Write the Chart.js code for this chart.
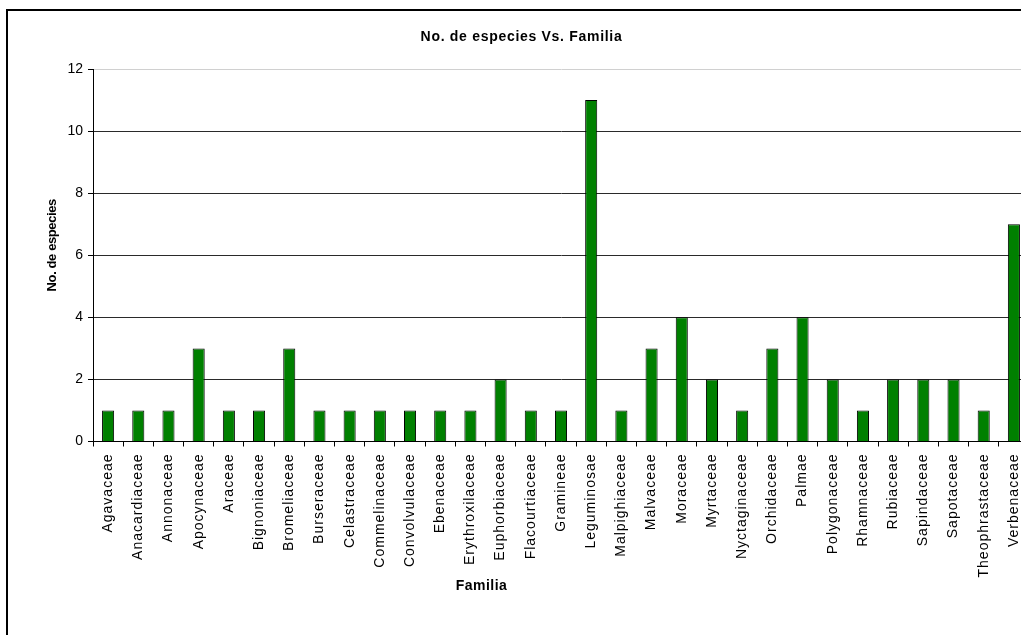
<!DOCTYPE html>
<html><head><meta charset="utf-8">
<script src="https://cdn.jsdelivr.net/npm/chart.js@4"></script>
<style>
html,body{margin:0;padding:0;background:#fff;overflow:hidden;width:1021px;height:635px}
#frame{position:absolute;left:6px;top:9px;width:1100px;height:700px;border:2px solid #000;box-sizing:border-box}
#c{position:absolute;left:0;top:0}
</style></head><body>
<div id="frame"></div>
<canvas id="c" width="1029" height="635"></canvas>
<script>
const categories = ['Agavaceae','Anacardiaceae','Annonaceae','Apocynaceae','Araceae','Bignoniaceae','Bromeliaceae','Burseraceae','Celastraceae','Commelinaceae','Convolvulaceae','Ebenaceae','Erythroxilaceae','Euphorbiaceae','Flacourtiaceae','Gramineae','Leguminosae','Malpighiaceae','Malvaceae','Moraceae','Myrtaceae','Nyctaginaceae','Orchidaceae','Palmae','Polygonaceae','Rhamnaceae','Rubiaceae','Sapindaceae','Sapotaceae','Theophrastaceae','Verbenaceae'];
const speciesCount = [1,1,1,3,1,1,3,1,1,1,1,1,1,2,1,1,11,1,3,4,2,1,3,4,2,1,2,2,2,1,7];
const yTicks = [0,2,4,6,8,10,12];
const chartTitle = 'No. de especies Vs. Familia';
const xTitle = 'Familia';
const yTitle = 'No. de especies';

const FONT = '"Liberation Sans", Arial, sans-serif';

function wrap(obj, name, spacing, dx, dy) {
  if (!obj || !obj[name] || obj[name].__wrapped) return;
  const orig = obj[name];
  const f = function(...args) {
    const c = this.ctx;
    c.save();
    c.letterSpacing = spacing;
    if (dx || dy) c.translate(dx || 0, dy || 0);
    try { return orig.apply(this, args); } finally { c.restore(); }
  };
  f.__wrapped = true;
  obj[name] = f;
}

const spacingPlugin = {
  id: 'excelText',
  beforeDraw(chart) {
    wrap(chart.scales.x, 'drawLabels', '1px');
    wrap(chart.scales.x, 'drawTitle', '0.5px', -79.5, 0);
    wrap(chart.scales.y, 'drawLabels', '0px');
    wrap(chart.scales.y, 'drawTitle', '-0.4px', 0, -10);
    wrap(chart.titleBlock, 'draw', '0.7px');
  }
};

new Chart(document.getElementById('c'), {
  type: 'bar',
  data: {
    labels: categories,
    datasets: [{
      label: yTitle,
      data: speciesCount,
      backgroundColor: '#008000',
      borderColor: '#000000',
      borderWidth: 1,
      barPercentage: 0.4,
      categoryPercentage: 1.0
    }]
  },
  options: {
    responsive: false,
    animation: false,
    devicePixelRatio: 1,
    layout: { padding: { left: 14, right: 0, top: 0, bottom: 0 } },
    plugins: {
      legend: { display: false },
      tooltip: { enabled: false },
      title: {
        display: true,
        text: chartTitle,
        color: '#000',
        font: { family: FONT, size: 14, weight: 'bold', lineHeight: 1.2 },
        padding: { top: 28.6, bottom: 23.6 }
      }
    },
    scales: {
      x: {
        offset: true,
        grid: { offset: true, drawOnChartArea: false, tickLength: 5, tickColor: '#000', lineWidth: 1 },
        border: { display: true, color: '#000', width: 1 },
        ticks: {
          autoSkip: false, maxRotation: 90, minRotation: 90,
          color: '#000', padding: 7,
          font: { family: FONT, size: 14 }
        },
        title: {
          display: true, text: xTitle, color: '#000',
          font: { family: FONT, size: 14, weight: 'bold', lineHeight: 1.2 },
          padding: { top: 0, bottom: 40.5 }
        },
        afterFit(s) { s.height = 193.5; s.paddingRight = 0; s.paddingLeft = 0; }
      },
      y: {
        min: 0, max: 12,
        afterBuildTicks(s) { s.ticks = yTicks.map(v => ({ value: v })); },
        grid: {
          color: c => (c.tick && c.tick.value === 12) ? '#d0d0d0' : '#2a2a2a',
          tickColor: '#000', tickLength: 5, lineWidth: 1
        },
        border: { display: true, color: '#000', width: 1 },
        ticks: { color: '#000', padding: 5, font: { family: FONT, size: 14 } },
        title: {
          display: true, text: yTitle, color: '#000',
          font: { family: FONT, size: 13, weight: 'bold', lineHeight: 1.2 },
          padding: { top: 31, bottom: 0 }
        },
        afterFit(s) { s.width = 79; }
      }
    }
  },
  plugins: [spacingPlugin]
});
</script>
</body></html>
